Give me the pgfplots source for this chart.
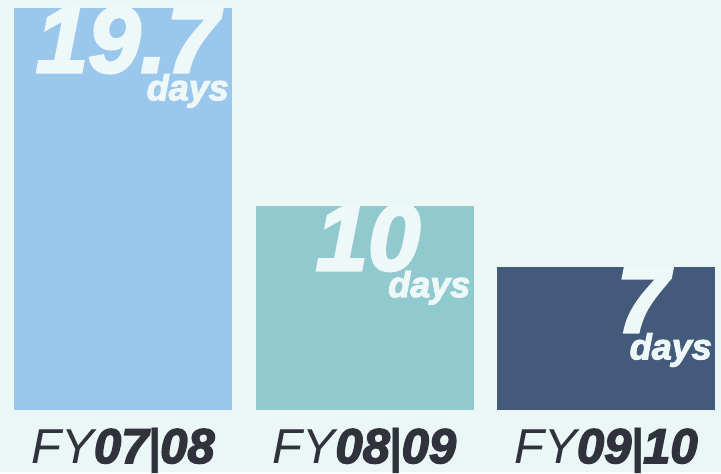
\documentclass[border=0pt]{standalone}
\usepackage{pgfplots}
\pgfplotsset{compat=1.18}
\usepackage{fontspec}
\setmainfont{Liberation Sans}
\newfontfamily\heavy{Liberation Sans}[FakeBold=3]
\definecolor{bg}{HTML}{EBF7F7}
\definecolor{c1}{HTML}{99C8EC}
\definecolor{c2}{HTML}{90CACE}
\definecolor{c3}{HTML}{445A7A}
\definecolor{txt}{HTML}{EEF8F9}
\definecolor{lab}{HTML}{30323C}
\newcommand{\bignum}[1]{{\heavy\bfseries\itshape\fontsize{94}{94}\selectfont #1}}
\newcommand{\days}{{\heavy\bfseries\itshape\fontsize{36}{36}\selectfont days}}
\newcommand{\fy}[2]{{\fontsize{49}{49}\selectfont\itshape FY{\heavy\bfseries #1}\kern-1pt{\bfseries |}\kern-1pt{\heavy\bfseries #2}}}
\begin{document}
\begin{tikzpicture}[x=1pt,y=1pt]
\fill[bg] (0,0) rectangle (721,472);
\begin{axis}[
  at={(123pt,62pt)}, anchor=origin,
  scale only axis, width=721pt, height=410pt,
  xmin=-0.50932, xmax=2.47619, ymin=0, ymax=20.098,
  axis line style={draw=none},
  ytick=\empty,
  xtick={0,1,2},
  xticklabels={\fy{07}{08},\fy{08}{09},\fy{09}{10}},
  major tick length=0pt,
  xticklabel style={anchor=base, yshift=-53pt, text=lab, inner sep=0pt},
  clip=false,
]
\addplot[ybar, bar width=218pt, fill=c1, draw=none] coordinates {(0,19.7)};
\addplot[ybar, bar width=218pt, fill=c2, draw=none] coordinates {(1,10)};
\addplot[ybar, bar width=218pt, fill=c3, draw=none] coordinates {(2,7)};
\node[anchor=base east, inner sep=0pt, text=txt, xshift=96pt, yshift=-64pt] at (axis cs:0,19.7) {\bignum{19.7}};
\node[anchor=base east, inner sep=0pt, text=txt, xshift=56pt, yshift=-64pt] at (axis cs:1,10) {\bignum{10}};
\node[anchor=base east, inner sep=0pt, text=txt, xshift=63pt, yshift=-65pt] at (axis cs:2,7) {\bignum{7}};
\node[anchor=base east, inner sep=0pt, text=txt, xshift=106pt, yshift=-92pt] at (axis cs:0,19.7) {\days};
\node[anchor=base east, inner sep=0pt, text=txt, xshift=106pt, yshift=-91pt] at (axis cs:1,10) {\days};
\node[anchor=base east, inner sep=0pt, text=txt, xshift=106pt, yshift=-92pt] at (axis cs:2,7) {\days};
\end{axis}
\end{tikzpicture}
\end{document}
